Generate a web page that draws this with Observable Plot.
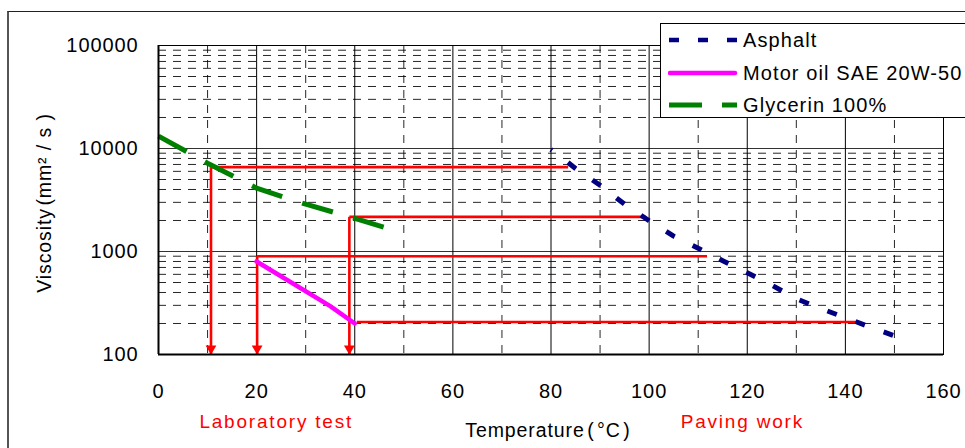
<!DOCTYPE html>
<html>
<head>
<meta charset="utf-8">
<script src="https://cdn.jsdelivr.net/npm/d3@7"></script>
<script src="https://cdn.jsdelivr.net/npm/@observablehq/plot@0.6"></script>
<style>
  html, body { margin: 0; padding: 0; background: #fff; }
  #wrap { position: relative; width: 965px; height: 448px; overflow: hidden; }
  #chartFrame { position: absolute; left: 7px; top: 11px; width: 1000px; height: 500px;
    border-left: 2px solid #555; border-top: 1px solid #222; box-sizing: border-box; pointer-events: none; }
  #legend { position: absolute; left: 660px; top: 23px; width: 340px; height: 95px; background: #fff;
    border: 1px solid #000; box-sizing: border-box; font-family: "Liberation Sans", Arial, sans-serif;
    font-size: 20px; letter-spacing: 1.1px; color: #000; }
  .row { position: absolute; left: 7px; height: 30px; display: flex; align-items: center; white-space: nowrap; }
  .row svg { width: 70px; height: 12px; margin-right: 5px; }
  svg text { font-family: "Liberation Sans", Arial, sans-serif; }
</style>
</head>
<body>
<div id="wrap">
  <div id="plot"></div>
  <div id="chartFrame"></div>
  <div id="legend"></div>
</div>
<script>
// ---- data ----
const temperatureTicks = [0, 20, 40, 60, 80, 100, 120, 140, 160];
const viscosityTicks = [100, 1000, 10000, 100000];
const minorViscosity = [200, 300, 400, 500, 600, 700, 800, 900,
  2000, 3000, 4000, 5000, 6000, 7000, 8000, 9000,
  20000, 30000, 40000, 50000, 60000, 70000, 80000, 90000];
const minorTemperature = [10, 30, 50, 70, 90, 110, 130, 150];
const majorTemperature = [20, 40, 60, 80, 100, 120, 140];

const seriesNames = ["Asphalt", "Motor oil SAE 20W-50", "Glycerin 100%"];

const asphaltT = [80, 85, 90, 95, 100, 105, 110, 115, 120, 125, 130, 135, 140, 145, 150];
const asphaltV = [9800, 6400, 4400, 2880, 1990, 1410, 1077, 815, 621, 471, 348, 279, 228, 185, 152];

const motorOilT = [20, 35, 40];
const motorOilV = [800, 295, 200];

const glycerinT = [0, 10, 20, 30, 40, 47];
const glycerinV = [13200, 7200, 4120, 2880, 2100, 1660];

// red guide lines
const guideV = [6600, 2170, 900, 207];
const guideFromT = [10.7, 38.9, 20.1, 40.4];
const guideToT = [83.5, 99.3, 111.8, 142.4];
const arrowT = [10.7, 20.1, 38.9];
const arrowFromV = [6600, 900, 2170];

const noteT = [24, 119];
const noteLabels = ["Laboratory test", "Paving work"];

const xTitle = "Temperature\u200A(\u200A°C\u200A)";
const yTitle = "Viscosity\u200A(mm\u00B2 / s )";

// ---- build tables ----
const zip = (T, V) => T.map((t, i) => ({t, v: V[i]}));
const asphalt = zip(asphaltT, asphaltV);
const motorOil = zip(motorOilT, motorOilV);
const glycerin = zip(glycerinT, glycerinV);
const guides = guideV.map((v, i) => ({v, t1: guideFromT[i], t2: guideToT[i]}));
const arrows = arrowT.map((t, i) => ({t, v1: arrowFromV[i], v2: 100}));
const notes = noteT.map((t, i) => ({t, label: noteLabels[i]}));

const colors = {asphalt: "#000080", oil: "#FF00FF", glycerin: "#008000", red: "#FF0000"};

const chart = Plot.plot({
  width: 965, height: 448,
  marginLeft: 158, marginRight: 22, marginTop: 45, marginBottom: 94,
  x: {domain: [0, 160], axis: null},
  y: {type: "log", domain: [100, 100000], axis: null},
  style: {background: "transparent", color: "#000", fontSize: "20px"},
  marks: [
    // grid
    Plot.ruleY(minorViscosity, {stroke: "#000", strokeWidth: 1, strokeDasharray: "8,7", strokeOpacity: 0.85}),
    Plot.ruleX(minorTemperature, {stroke: "#000", strokeWidth: 1, strokeDasharray: "8,7", strokeOpacity: 0.85}),
    Plot.ruleY(viscosityTicks, {stroke: "#333", strokeWidth: 1}),
    Plot.ruleX(majorTemperature, {stroke: "#000", strokeWidth: 1}),
    // red guides
    Plot.link(guides, {x1: "t1", x2: "t2", y1: "v", y2: "v", stroke: colors.red, strokeWidth: 2.6}),
    Plot.link(arrows, {x1: "t", x2: "t", y1: "v1", y2: "v2", stroke: colors.red, strokeWidth: 2.6}),
    Plot.dot(arrows, {x: "t", y: "v2", symbol: "triangle", r: 4, fill: colors.red, stroke: "none", rotate: 180, dy: -6}),
    // series
    Plot.line(glycerin, {x: "t", y: "v", stroke: colors.glycerin, strokeWidth: 5, strokeDasharray: "32,21", strokeLinecap: "butt"}),
    Plot.line(motorOil, {x: "t", y: "v", stroke: colors.oil, strokeWidth: 4.5, strokeLinecap: "round"}),
    Plot.line(asphalt, {x: "t", y: "v", stroke: colors.asphalt, strokeWidth: 5, strokeDasharray: "10,20", strokeDashoffset: 8.5, strokeLinecap: "butt"}),
    // frame
    Plot.frame({stroke: "#000", strokeWidth: 1}),
    Plot.ruleX([0], {stroke: "#000", strokeWidth: 2}),
    Plot.ruleY([100], {stroke: "#000", strokeWidth: 2}),
    // tick labels
    Plot.text(temperatureTicks, {x: d => d, frameAnchor: "bottom", dy: 37, lineAnchor: "middle", text: d => String(d), fontSize: 20, fill: "#000"}),
    Plot.text(viscosityTicks, {y: d => d, frameAnchor: "left", dx: -20, textAnchor: "end", lineAnchor: "middle", text: d => String(d), fontSize: 20, fill: "#000"}),
    // axis titles
    Plot.text([xTitle], {frameAnchor: "bottom", dx: -3, dy: 76, lineAnchor: "middle", text: d => d, fontSize: 19.5, fill: "#000"}),
    Plot.text([yTitle], {frameAnchor: "left", dx: -114, dy: 3, rotate: -90, textAnchor: "middle", lineAnchor: "middle", text: d => d, fontSize: 19.5, fill: "#000"}),
    // notes
    Plot.text(notes, {x: "t", frameAnchor: "bottom", dy: 67, lineAnchor: "middle", text: "label", fontSize: 19, fill: colors.red})
  ]
});
document.getElementById("plot").appendChild(chart);

// letter spacing to mimic the original Japanese UI font widths
d3.select(chart).selectAll("text").each(function () {
  const t = this.textContent;
  if (noteLabels.includes(t)) this.style.letterSpacing = "1.8px";
  else if (/^\d+$/.test(t)) this.style.letterSpacing = "0.9px";
  else if (t === xTitle) this.style.letterSpacing = "0.9px";
  else if (t === yTitle) this.style.letterSpacing = "0.9px";
});

// legend
const legend = document.getElementById("legend");
const samples = [
  {name: seriesNames[0], stroke: colors.asphalt, dash: "10,19", width: 4.5, cap: "butt"},
  {name: seriesNames[1], stroke: colors.oil, dash: null, width: 4.5, cap: "round"},
  {name: seriesNames[2], stroke: colors.glycerin, dash: "33,20", width: 5, cap: "butt"}
];
const rowTops = [1, 34, 66];
samples.forEach((s, i) => {
  const row = document.createElement("div");
  row.className = "row";
  row.style.top = rowTops[i] + "px";
  const ns = "http://www.w3.org/2000/svg";
  const sv = document.createElementNS(ns, "svg");
  const ln = document.createElementNS(ns, "line");
  ln.setAttribute("x1", s.cap === "round" ? 2 : 1); ln.setAttribute("x2", s.cap === "round" ? 67 : 69);
  ln.setAttribute("y1", 6); ln.setAttribute("y2", 6);
  ln.setAttribute("stroke", s.stroke); ln.setAttribute("stroke-width", s.width);
  ln.setAttribute("stroke-linecap", s.cap);
  if (s.dash) ln.setAttribute("stroke-dasharray", s.dash);
  sv.appendChild(ln);
  row.appendChild(sv);
  const tx = document.createElement("span");
  tx.textContent = s.name;
  row.appendChild(tx);
  legend.appendChild(row);
});
</script>
</body>
</html>
